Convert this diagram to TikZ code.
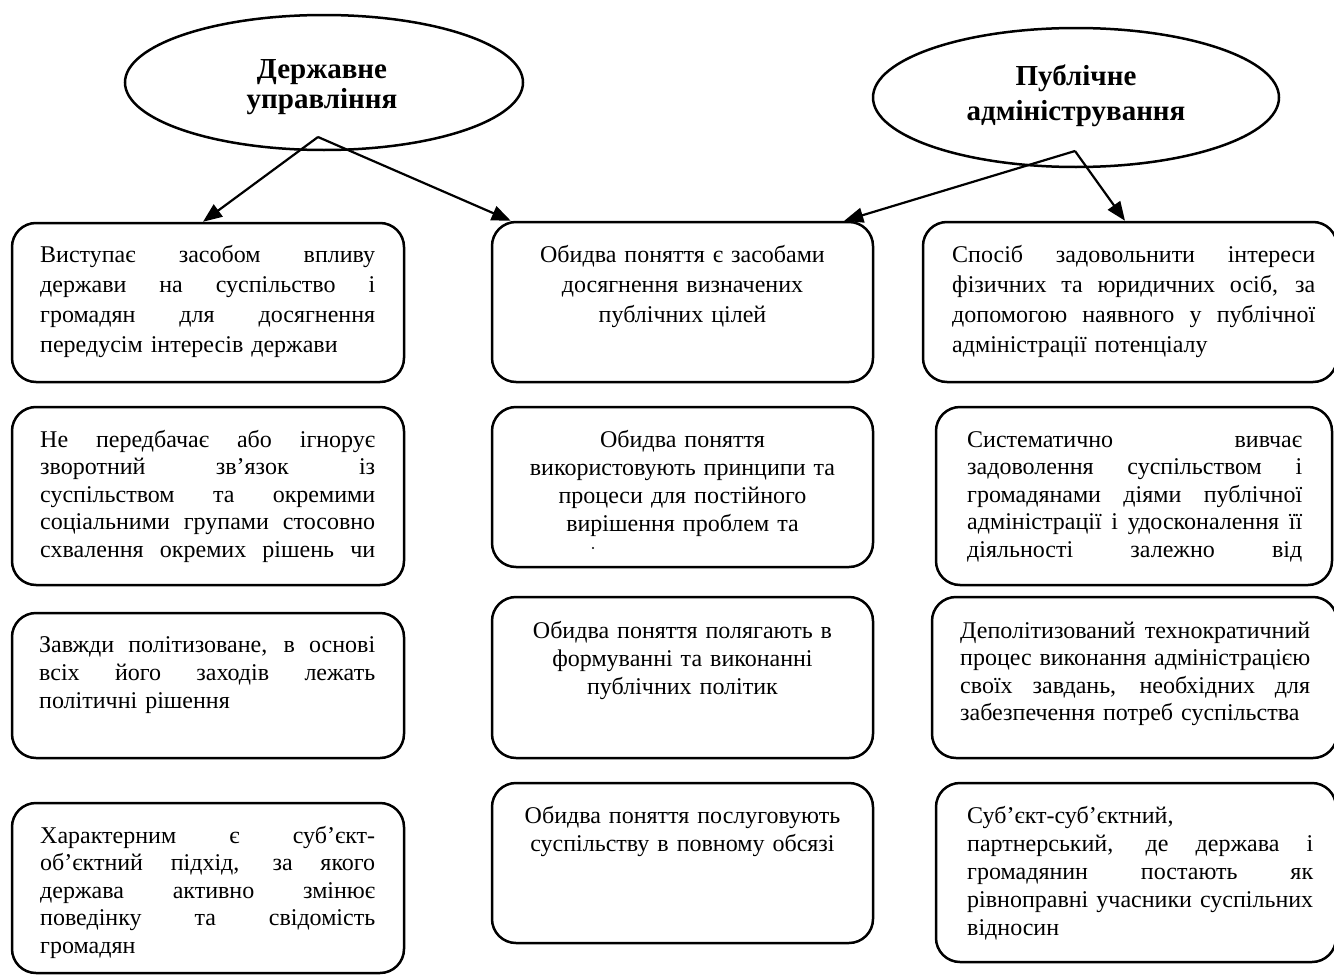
\documentclass[tikz,border=0pt]{standalone}
\usepackage{fontspec}
\setmainfont{Liberation Serif}
\usetikzlibrary{arrows.meta,shapes.geometric,calc}

% a line stretched to the full width of the paragraph
% (the font's own interword glue is restored, so that it can stretch)
\newcommand{\jl}[1]{{\spaceskip=0pt\xspaceskip=0pt\makebox[\linewidth][s]{#1}}}

\begin{document}
\begin{tikzpicture}[x=1pt,y=-1pt,
  card/.style={draw, line width=2.5pt, rounded corners=24pt, inner sep=0pt},
  oval/.style={draw, ellipse, line width=2.5pt, inner sep=0pt},
  head/.style={inner sep=0pt, anchor=base, align=center, text width=380pt, font=\fontsize{29}{30}\selectfont\bfseries},
  jtxt/.style={inner sep=0pt, anchor=base west, align=left},
  ctxt/.style={inner sep=0pt, anchor=base, align=center},
  arr/.style={line width=2.2pt, -{Triangle[length=19pt,width=15pt]}}
]
\useasboundingbox (0,0) rectangle (1334,977);

% the two concepts
\node[oval, minimum width=398pt, minimum height=135pt] (du) at (324,82.5) {};
\node[head] (du-t) at (322,78) {Державне\\управління};
\node[oval, minimum width=406pt, minimum height=139pt] (pa) at (1076,97.5) {};
\node[head, font=\fontsize{29}{35}\selectfont\bfseries] (pa-t) at (1076,85) {Публічне\\адміністрування};

% left column
\node[card, minimum width=392pt, minimum height=159pt] (l1) at (208,302.5) {};
\node[card, minimum width=392pt, minimum height=178pt] (l2) at (208,496) {};
\node[card, minimum width=392pt, minimum height=145pt] (l3) at (208,685.5) {};
\node[card, minimum width=392pt, minimum height=170pt] (l4) at (208,888) {};

% middle column
\node[card, minimum width=381pt, minimum height=160pt] (m1) at (682.5,302) {};
\node[card, minimum width=381pt, minimum height=160pt] (m2) at (682.5,487) {};
\node[card, minimum width=381pt, minimum height=161pt] (m3) at (682.5,677.5) {};
\node[card, minimum width=381pt, minimum height=160pt] (m4) at (682.5,863) {};

% right column
\node[card, minimum width=414pt, minimum height=160pt] (r1) at (1130,302) {};
\node[card, minimum width=396pt, minimum height=178pt] (r2) at (1134,496) {};
\node[card, minimum width=405pt, minimum height=161pt] (r3) at (1134.5,677.5) {};
\node[card, minimum width=400pt, minimum height=179pt] (r4) at (1136,872.5) {};

% texts of the left column
\node[jtxt, text width=335pt, font=\fontsize{24}{30}\selectfont] (l1-t) at (40,262) {%
\jl{Виступає засобом впливу}\\
\jl{держави на суспільство і}\\
\jl{громадян для досягнення}\\
передусім інтересів держави};
\node[jtxt, text width=335pt, font=\fontsize{24}{27.5}\selectfont] (l2-t) at (40,447) {%
\jl{Не передбачає або ігнорує}\\
\jl{зворотний зв’язок із}\\
\jl{суспільством та окремими}\\
\jl{соціальними групами стосовно}\\
\jl{схвалення окремих рішень чи}};
\node[jtxt, text width=336pt, font=\fontsize{24}{28.3}\selectfont] (l3-t) at (39,652) {%
\jl{Завжди політизоване, в основі}\\
\jl{всіх його заходів лежать}\\
політичні рішення};
\node[jtxt, text width=335pt, font=\fontsize{24}{27.5}\selectfont] (l4-t) at (40,843) {%
\jl{Характерним є суб’єкт-}\\
\jl{об’єктний підхід, за якого}\\
\jl{держава активно змінює}\\
\jl{поведінку та свідомість}\\
громадян};

% texts of the middle column
\node[ctxt, text width=370pt, font=\fontsize{24}{30}\selectfont] (m1-t) at (682.5,262) {%
Обидва поняття є засобами\\
досягнення визначених\\
публічних цілей};
\node[ctxt, text width=370pt, font=\fontsize{24}{28.3}\selectfont] (m2-t) at (682.5,447) {%
Обидва поняття\\
використовують принципи та\\
процеси для постійного\\
вирішення проблем та};
\fill (593,548) circle (1.2pt);
\node[ctxt, text width=370pt, font=\fontsize{24}{28.3}\selectfont] (m3-t) at (682.5,638) {%
Обидва поняття полягають в\\
формуванні та виконанні\\
публічних політик};
\node[ctxt, text width=370pt, font=\fontsize{24}{28.3}\selectfont] (m4-t) at (682.5,823) {%
Обидва поняття послуговують\\
суспільству в повному обсязі};

% texts of the right column
\node[jtxt, text width=363pt, font=\fontsize{24}{30}\selectfont] (r1-t) at (952,262) {%
\jl{Спосіб задовольнити інтереси}\\
\jl{фізичних та юридичних осіб, за}\\
\jl{допомогою наявного у публічної}\\
адміністрації потенціалу};
\node[jtxt, text width=335pt, font=\fontsize{24}{27.5}\selectfont] (r2-t) at (967,447) {%
\jl{Систематично вивчає}\\
\jl{задоволення суспільством і}\\
\jl{громадянами діями публічної}\\
\jl{адміністрації і удосконалення її}\\
\jl{діяльності залежно від}};
\node[jtxt, text width=350pt, font=\fontsize{24}{27.5}\selectfont] (r3-t) at (960,638) {%
\jl{Деполітизований технократичний}\\
\jl{процес виконання адміністрацією}\\
\jl{своїх завдань, необхідних для}\\
забезпечення потреб суспільства};
\node[jtxt, text width=346pt, font=\fontsize{24}{28}\selectfont] (r4-t) at (967,823) {%
Суб’єкт-суб’єктний,\\
\jl{партнерський, де держава і}\\
\jl{громадянин постають як}\\
\jl{рівноправні учасники суспільних}\\
відносин};

% connectors
\coordinate (du-out) at (318,137);
\coordinate (pa-out) at (1075,151);
\draw[arr] (du-out) -- ($(l1.north)+(-5,0)$);
\draw[arr] (du-out) -- ($(m1.north west)+(20,0)$);
\draw[arr] (pa-out) -- ($(m1.north east)+(-30,0)$);
\draw[arr] (pa-out) -- ($(r1.north)+(-5,0)$);
\end{tikzpicture}
\end{document}
